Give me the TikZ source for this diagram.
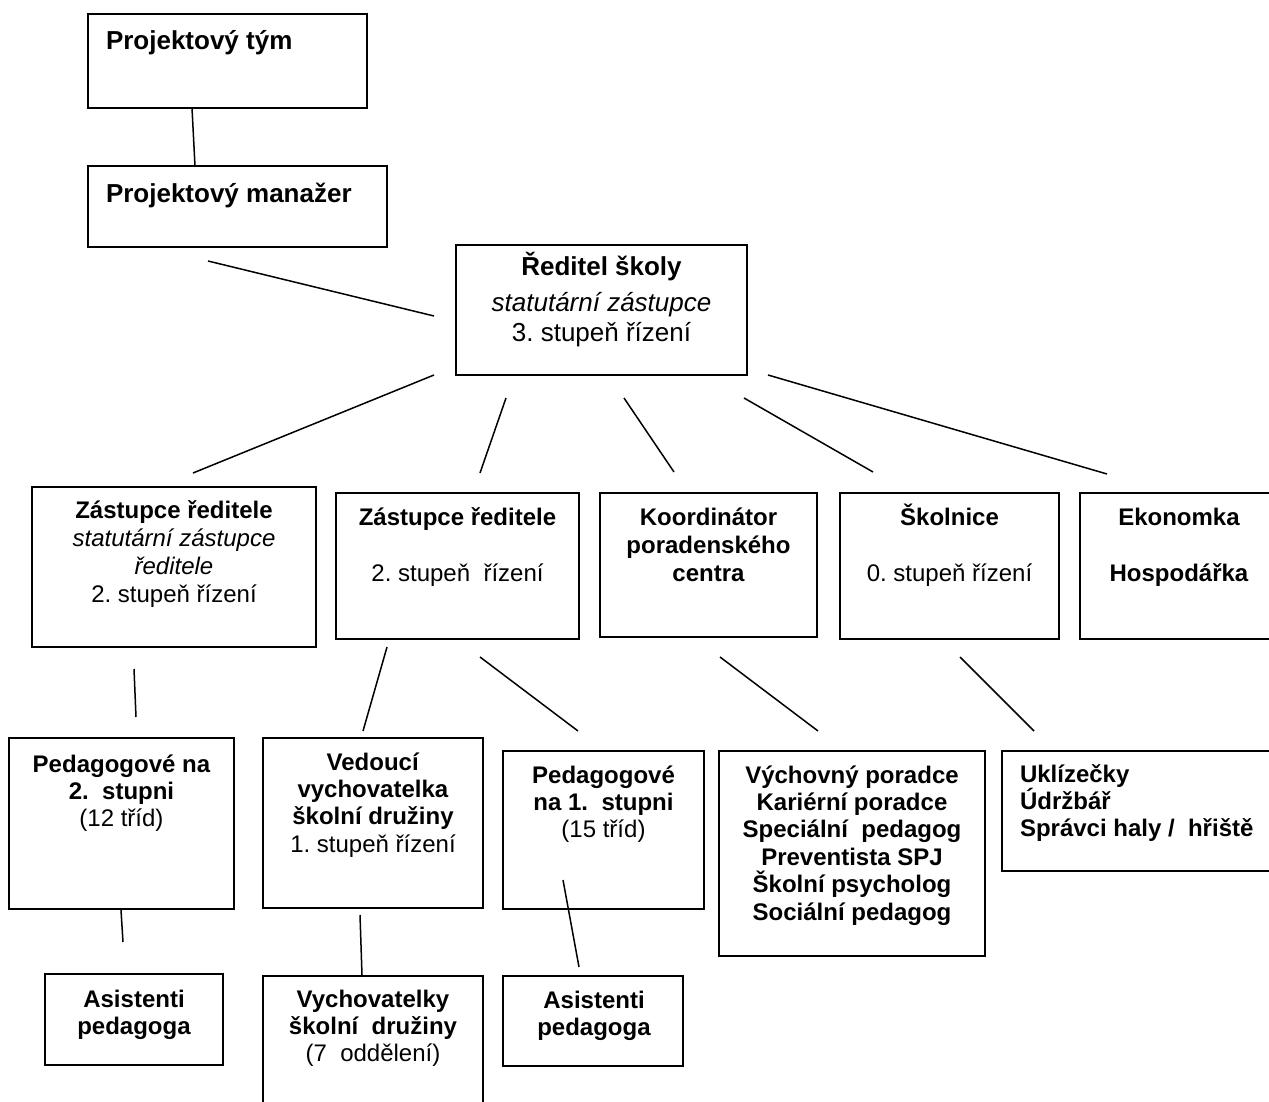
\documentclass[tikz,border=0pt]{standalone}
\usepackage{fontspec}
\setmainfont{Liberation Sans}
\frenchspacing
\lineskiplimit=-100pt
\newcommand\orgbox[5]{\node[box, minimum width={(#4-#2)*0.5pt}, minimum height={(#5-#3)*0.5pt}] (#1) at (#2,#3) {};}
\newcommand\stBig{\rule{0pt}{13pt}}
\newcommand\stRow{\rule{0pt}{12pt}}
\begin{document}
\begin{tikzpicture}[x=0.5pt,y=-0.5pt,
  box/.style={draw, line width=1pt, inner sep=0pt, outer sep=0pt, anchor=north west},
  lbl/.style={inner sep=0pt, outer sep=0pt, align=center, anchor=north},
  lbll/.style={inner sep=0pt, outer sep=0pt, align=left, anchor=north west},
  fbig/.style={font=\fontsize{13}{15}\selectfont},
  frow/.style={font=\fontsize{12}{14}\selectfont},
  frowb/.style={font=\fontsize{12}{13.7}\selectfont},
  conn/.style={line width=0.75pt}]
\useasboundingbox (0,0) rectangle (1269,1102);
% boxes
\orgbox{PT}{88}{14}{367}{108}
\orgbox{PM}{88}{166}{387}{247}
\orgbox{R}{456}{245}{747}{375}
\orgbox{ZRa}{32}{487}{316}{647}
\orgbox{ZRb}{336}{493}{579}{639}
\orgbox{KO}{600}{493}{817}{637}
\orgbox{SK}{840}{493}{1059}{639}
\orgbox{EK}{1080}{493}{1278}{639}
\orgbox{PD}{9}{738}{234}{909}
\orgbox{VV}{263}{738}{483}{908}
\orgbox{PJ}{503}{751}{704}{909}
\orgbox{VP}{719}{751}{985}{956}
\orgbox{UK}{1002}{751}{1290}{871}
\orgbox{AA}{45}{974}{223}{1065}
\orgbox{VS}{263}{976}{483}{1120}
\orgbox{AB}{503}{976}{683}{1066}
% texts
\node[lbll, fbig] (tPT) at (106,24) {\stBig\textbf{Projektový tým}};
\node[lbll, fbig] (tPM) at (106,176) {\stBig\textbf{Projektový manažer}};
\node[lbl, fbig] (tR) at (601.5,249) {\stBig\textbf{Ředitel školy}\\[3pt]\stBig\textit{statutární zástupce}\\\stBig 3. stupeň řízení};
\node[lbl, frow] (tZRa) at (174,494) {\stRow\textbf{Zástupce ředitele}\\\stRow\textit{statutární zástupce}\\\stRow\textit{ředitele}\\\stRow 2. stupeň řízení};
\node[lbl, frow] (tZRb) at (457.5,501) {\stRow\textbf{Zástupce ředitele}\\\stRow\\\stRow 2. stupeň~ řízení};
\node[lbl, frow] (tKO) at (708.5,501) {\stRow\textbf{Koordinátor}\\\stRow\textbf{poradenského}\\\stRow\textbf{centra}};
\node[lbl, frow] (tSK) at (949.5,501) {\stRow\textbf{Školnice}\\\stRow\\\stRow 0. stupeň řízení};
\node[lbl, frow] (tEK) at (1179,501) {\stRow\textbf{Ekonomka}\\\stRow\\\stRow\textbf{Hospodářka}};
\node[lbl, frowb] (tPD) at (121.5,748) {\stRow\textbf{Pedagogové na}\\\stRow\textbf{2.~ stupni}\\\stRow (12 tříd)};
\node[lbl, frowb] (tVV) at (373,746) {\stRow\textbf{Vedoucí}\\\stRow\textbf{vychovatelka}\\\stRow\textbf{školní družiny}\\\stRow 1. stupeň řízení};
\node[lbl, frowb] (tPJ) at (603.5,759) {\stRow\textbf{Pedagogové}\\\stRow\textbf{na 1.~ stupni}\\\stRow (15 tříd)};
\node[lbl, frowb] (tVP) at (852,759) {\stRow\textbf{Výchovný poradce}\\\stRow\textbf{Kariérní poradce}\\\stRow\textbf{Speciální~ pedagog}\\\stRow\textbf{Preventista SPJ}\\\stRow\textbf{Školní psycholog}\\\stRow\textbf{Sociální pedagog}};
\node[lbll, frowb] (tUK) at (1020,758) {\stRow\textbf{Uklízečky}\\\stRow\textbf{Údržbář}\\\stRow\textbf{Správci haly /~ hřiště}};
\node[lbl, frowb] (tAA) at (134,983) {\stRow\textbf{Asistenti}\\\stRow\textbf{pedagoga}};
\node[lbl, frowb] (tVS) at (373,983) {\stRow\textbf{Vychovatelky}\\\stRow\textbf{školní~ družiny}\\\stRow (7~ oddělení)};
\node[lbl, frowb] (tAB) at (594,984) {\stRow\textbf{Asistenti}\\\stRow\textbf{pedagoga}};
% connector end points
\coordinate (c1a) at (192,108);  \coordinate (c1b) at (195,166);
\coordinate (c2a) at (208,261);  \coordinate (c2b) at (434,316);
\coordinate (c3a) at (434,375);  \coordinate (c3b) at (193,473);
\coordinate (c4a) at (506,398);  \coordinate (c4b) at (480,473);
\coordinate (c5a) at (624,398);  \coordinate (c5b) at (674,472);
\coordinate (c6a) at (744,398);  \coordinate (c6b) at (873,472);
\coordinate (c7a) at (768,375);  \coordinate (c7b) at (1107,474);
\coordinate (c8a) at (134,669);  \coordinate (c8b) at (136,717);
\coordinate (c9a) at (387,647);  \coordinate (c9b) at (363,731);
\coordinate (c10a) at (480,657); \coordinate (c10b) at (578,731);
\coordinate (c11a) at (720,657); \coordinate (c11b) at (818,731);
\coordinate (c12a) at (960,657); \coordinate (c12b) at (1034,731);
\coordinate (c13a) at (121,910); \coordinate (c13b) at (123,942);
\coordinate (c14a) at (360,915); \coordinate (c14b) at (362,975);
\coordinate (c15a) at (563,880); \coordinate (c15b) at (579,967);
\foreach \i in {1,...,15} {\draw[conn] (c\i a) -- (c\i b);}
\end{tikzpicture}
\end{document}
